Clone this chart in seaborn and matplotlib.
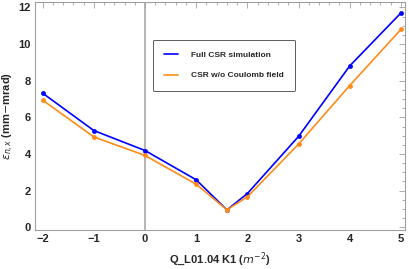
import matplotlib
matplotlib.use("Agg")
import matplotlib.pyplot as plt
import seaborn as sns
import pandas as pd
from matplotlib.ticker import MultipleLocator

k1 = [-2, -1, 0, 1, 1.6, 2, 3, 4, 5]
full_csr = [7.32, 5.28, 4.19, 2.59, 0.95, 1.84, 4.96, 8.81, 11.7]
no_coulomb = [6.94, 4.93, 3.92, 2.35, 0.95, 1.66, 4.54, 7.74, 10.8]
series_names = ["Full CSR simulation", "CSR w/o Coulomb field"]

df = pd.concat([
    pd.DataFrame({"k1": k1, "eps": full_csr, "series": series_names[0]}),
    pd.DataFrame({"k1": k1, "eps": no_coulomb, "series": series_names[1]}),
])

sns.set_style("white")
plt.rcParams['font.family'] = ['Liberation Sans', 'DejaVu Sans']
plt.rcParams['mathtext.fontset'] = 'dejavusans'

fig = plt.figure(figsize=(4.09, 2.69), dpi=100)
ax = fig.add_axes([35/409, 39/269, 370/409, 228/269])

palette = {series_names[0]: "#0000ff", series_names[1]: "#ff8c1a"}
ax.axvline(0, color="#b0b0b0", lw=1.3, zorder=0)
sns.lineplot(data=df, x="k1", y="eps", hue="series", palette=palette,
             marker="o", markersize=3.5, markeredgewidth=0, lw=1.2,
             sort=False, ax=ax)

ax.set_xlim(-2.15, 5.08)
ax.set_ylim(-0.15, 12.3)
ax.xaxis.set_major_locator(MultipleLocator(1))
ax.xaxis.set_minor_locator(MultipleLocator(0.2))
ax.yaxis.set_major_locator(MultipleLocator(2))
ax.yaxis.set_minor_locator(MultipleLocator(0.5))

for s in ax.spines.values():
    s.set_color("#a0a0a0")
    s.set_linewidth(0.8)
ax.tick_params(which="both", direction="in", top=True, right=True,
               color="#a0a0a0", width=0.6)
ax.tick_params(which="major", length=4, labelsize=8, pad=3)
ax.tick_params(which="minor", length=2)
for lab in ax.get_xticklabels() + ax.get_yticklabels():
    lab.set_fontweight("bold")

ax.set_xlabel("Q_L01.04 K1 ($m^{-2}$)", fontsize=8, fontweight="bold", labelpad=4)
ax.set_ylabel(r"$\epsilon_{n,x}$ (mm$-$mrad)", fontsize=8, fontweight="bold", labelpad=2)

handles, labels = ax.get_legend_handles_labels()
for h in handles:
    h.set_marker("")
leg = ax.legend(handles, labels, loc="upper left", bbox_to_anchor=(0.318, 0.835),
                prop={"weight": "bold", "size": 6}, frameon=True, fancybox=True,
                edgecolor="#333333", handlelength=1.6, handletextpad=1.6,
                borderpad=1.4, labelspacing=1.5, borderaxespad=0)
leg.get_frame().set_linewidth(0.7)

fig.savefig("out.png", dpi=100)
